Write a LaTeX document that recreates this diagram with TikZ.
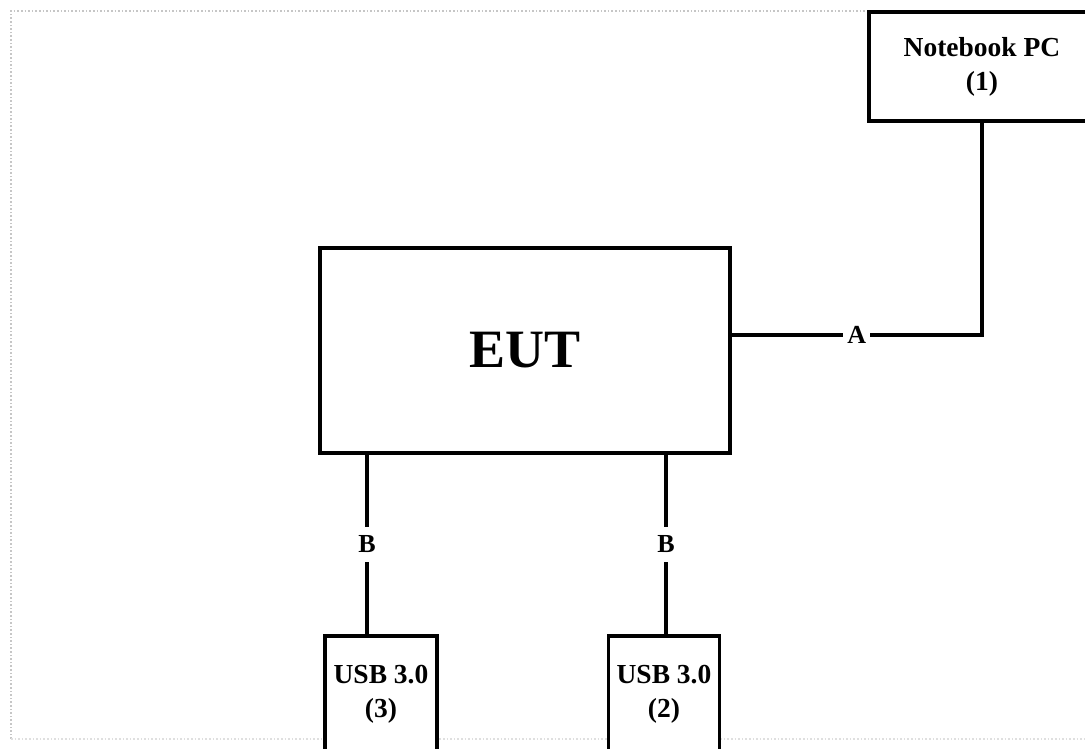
\documentclass[tikz,border=0pt]{standalone}
\usepackage{fontspec}
\setmainfont{Liberation Serif}
\usetikzlibrary{positioning}

\begin{document}
\begin{tikzpicture}[x=1pt, y=-1pt,
    box/.style={draw, fill=white, line width=3.3pt, inner sep=0pt, align=center, font=\bfseries\fontsize{27.5}{34}\selectfont},
    lbl/.style={fill=white, inner xsep=4pt, inner ysep=9pt, font=\bfseries\fontsize{26}{30}\selectfont},
    wire/.style={line width=3.3pt}]
  \useasboundingbox (0,0) rectangle (1085,749);
  \clip (0,0) rectangle (1085,749);
  \draw [gray!45, dotted, line width=1.6pt] (11,739) -- (11,11) -- (1100,11);
  \draw [gray!25, dotted, line width=1.6pt] (11,739) -- (1100,739);
  \node [box, minimum width=410, minimum height=205, font=\bfseries\fontsize{54}{60}\selectfont] (eut) at (525,350.5) {EUT};
  \node [box, minimum width=226, minimum height=109] (nb) at (982,66.5) {Notebook PC\\(1)};
  \node [box, minimum width=112, minimum height=116] (usb3) at (381,694) {USB 3.0\\(3)};
  \node [box, minimum width=111, minimum height=116] (usb2) at (664,694) {USB 3.0\\(2)};
  \coordinate (bend) at (nb.south |- 0,335);
  \draw [wire] (eut.east |- bend) -- node [lbl, midway] {A} (bend) -- (nb.south);
  \draw [wire] ([xshift=-14pt]usb3.north |- eut.south) -- node [lbl, midway] {B} ([xshift=-14pt]usb3.north);
  \draw [wire] ([xshift=2pt]usb2.north |- eut.south) -- node [lbl, midway] {B} ([xshift=2pt]usb2.north);
\end{tikzpicture}
\end{document}
